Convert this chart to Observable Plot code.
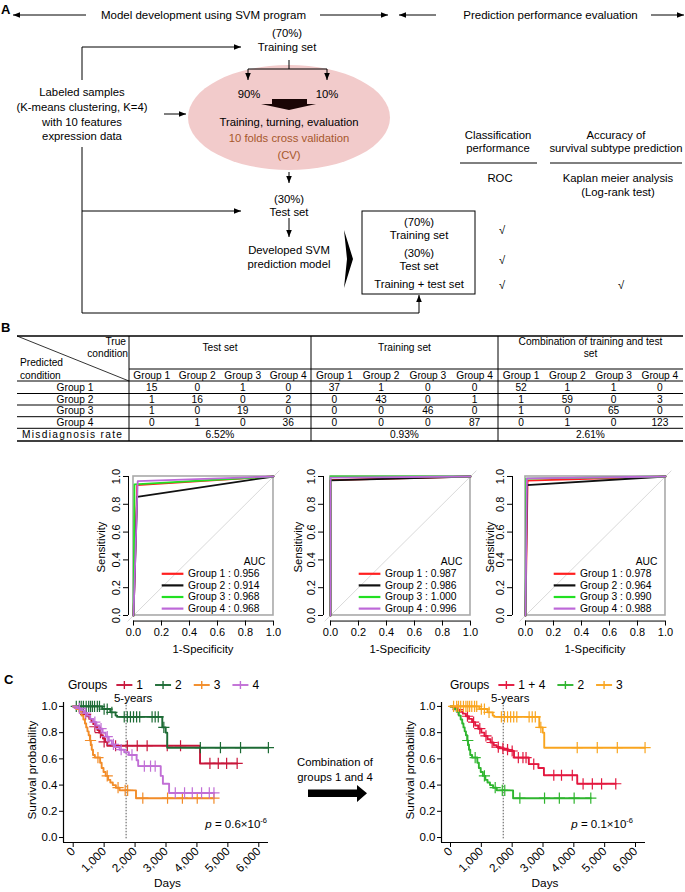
<!DOCTYPE html>
<html>
<head>
<meta charset="utf-8">
<script src="https://cdn.jsdelivr.net/npm/d3@7"></script>
<script src="https://cdn.jsdelivr.net/npm/@observablehq/plot@0.6"></script>
<style>
html,body{margin:0;padding:0;background:#fff;}
#fig{position:relative;width:685px;height:892px;overflow:hidden;font-family:"Liberation Sans",Arial,Helvetica,sans-serif;background:#fff;}
.panel{position:absolute;}
.panel svg{display:block;overflow:visible;max-width:none;}
#overlay{position:absolute;left:0;top:0;pointer-events:none;overflow:visible;}
#overlay text{font-family:"Liberation Sans",Arial,Helvetica,sans-serif;}
.pval{position:absolute;font-size:11.5px;white-space:nowrap;line-height:14px;}
.pval sup{font-size:7.5px;vertical-align:5px;line-height:0;}
</style>
</head>
<body>
<div id="fig">
  <div class="panel" id="roc1"></div>
  <div class="panel" id="roc2"></div>
  <div class="panel" id="roc3"></div>
  <div class="panel" id="kmL"></div>
  <div class="panel" id="kmR"></div>
  <div class="pval" style="right:418px;top:817px"><i>p</i> = 0.6×10<sup>-6</sup></div>
  <div class="pval" style="right:52px;top:817px"><i>p</i> = 0.1×10<sup>-6</sup></div>
  <svg id="overlay" width="685" height="892">
    <defs>
      <marker id="ah" viewBox="0 0 10 10" refX="10" refY="5" markerWidth="7" markerHeight="7" markerUnits="userSpaceOnUse" orient="auto">
        <path d="M0,1L10,5L0,9Z" fill="#000"/>
      </marker>
    </defs>
    <g id="panelA" font-size="11.3" text-anchor="middle" dominant-baseline="central" fill="#000">
      <text x="1" y="9" text-anchor="start" font-weight="bold" font-size="13">A</text>
      <g stroke="#000" stroke-width="1" fill="none">
        <path d="M86,15H13" marker-end="url(#ah)"/>
        <path d="M320,15H388" marker-end="url(#ah)"/>
        <path d="M436,15H399" marker-end="url(#ah)"/>
        <path d="M651,15H684" marker-end="url(#ah)"/>
      </g>
      <text x="203.5" y="15" font-size="11.5">Model development using SVM program</text>
      <text x="550.5" y="15" font-size="11.5">Prediction performance evaluation</text>

      <ellipse cx="289" cy="117.5" rx="101" ry="52.5" fill="#f2cbcb"/>
      <text x="287" y="33">(70%)</text>
      <text x="287" y="47">Training set</text>
      <g stroke="#000" stroke-width="1" fill="none">
        <path d="M82,80V47H241" marker-end="url(#ah)"/>
        <path d="M289,60V69M248,69H327"/>
        <path d="M248,69V80" marker-end="url(#ah)"/>
        <path d="M327,69V80" marker-end="url(#ah)"/>
        <path d="M164,114H186" marker-end="url(#ah)"/>
        <path d="M82,147V313H419V295" marker-end="url(#ah)"/>
        <path d="M82,211H241" marker-end="url(#ah)"/>
        <path d="M289,172V183" marker-end="url(#ah)"/>
        <path d="M289,218V237" marker-end="url(#ah)"/>
      </g>
      <text x="249" y="94">90%</text>
      <text x="327" y="94">10%</text>
      <path d="M272,99H307V104H316L289,110L261,104H272Z" fill="#1a0505"/>
      <text x="289" y="122">Training, turning, evaluation</text>
      <text x="289" y="138" fill="#a6582b">10 folds cross validation</text>
      <text x="289" y="155" fill="#a6582b">(CV)</text>

      <text x="82" y="92">Labeled samples</text>
      <text x="82" y="107">(K-means clustering, K=4)</text>
      <text x="82" y="121.5">with 10 features</text>
      <text x="82" y="136">expression data</text>

      <text x="289" y="198.5">(30%)</text>
      <text x="289" y="211.5">Test set</text>
      <text x="289" y="250">Developed SVM</text>
      <text x="289" y="264">prediction model</text>
      <path d="M344,230L353,259L344,288L347,259Z" fill="#000"/>
      <rect x="362" y="211" width="113" height="83" fill="none" stroke="#000" stroke-width="1"/>
      <text x="419" y="222">(70%)</text>
      <text x="419" y="235">Training set</text>
      <text x="419" y="253">(30%)</text>
      <text x="419" y="266">Test set</text>
      <text x="419" y="284">Training + test set</text>

      <text x="498" y="134.5">Classification</text>
      <text x="498" y="148">performance</text>
      <text x="616" y="134.5">Accuracy of</text>
      <text x="616" y="148">survival subtype prediction</text>
      <path d="M460,163H537M550,163H682" stroke="#000" stroke-width="1"/>
      <text x="500" y="178">ROC</text>
      <text x="618" y="178">Kaplan meier analysis</text>
      <text x="618" y="192">(Log-rank test)</text>
      <text x="502" y="230">√</text>
      <text x="502" y="260">√</text>
      <text x="502" y="285">√</text>
      <text x="621" y="285">√</text>

      <text x="1" y="327" text-anchor="start" font-weight="bold" font-size="13">B</text>
      <text x="4" y="679" text-anchor="start" font-weight="bold" font-size="13">C</text>

      <text x="335" y="762">Combination of</text>
      <text x="335" y="777">groups 1 and 4</text>
      <path d="M308,789.5H357V785L367,793.3L357,802V797H308Z" fill="#000"/>
    </g>
  </svg>
</div>
<script>
// ================= DATA =================
// Panel B – confusion tables (rows: predicted, columns: true condition)
const setTitles = ["Test set", "Training set", "Combination of training and test set"];
const groupLabels = ["Group 1", "Group 2", "Group 3", "Group 4"];
const testSetMatrix = [[15, 0, 1, 0], [1, 16, 0, 2], [1, 0, 19, 0], [0, 1, 0, 36]];
const trainingSetMatrix = [[37, 1, 0, 0], [0, 43, 0, 1], [0, 0, 46, 0], [0, 0, 0, 87]];
const combinedSetMatrix = [[52, 1, 1, 0], [1, 59, 0, 3], [1, 0, 65, 0], [0, 1, 0, 123]];
const misdiagnosisRates = ["6.52%", "0.93%", "2.61%"];

// ROC curves: elbow point (1-specificity, sensitivity) per group, and AUC
const rocColors = ["#ff1f1f", "#111111", "#22e022", "#bd68d8"];
const rocTicks = [0, 0.2, 0.4, 0.6, 0.8, 1.0];
const aucTest = [0.956, 0.914, 0.968, 0.968];
const aucTraining = [0.987, 0.986, 1.000, 0.996];
const aucCombined = [0.978, 0.964, 0.990, 0.988];
const rocTestFPR = [0.026, 0.026, 0.007, 0.030];
const rocTestTPR = [0.938, 0.854, 0.943, 0.966];
const rocTrainingFPR = [0, 0, 0, 0];
const rocTrainingTPR = [0.974, 0.972, 1.000, 0.992];
const rocCombinedFPR = [0.015, 0.010, 0.005, 0.010];
const rocCombinedTPR = [0.971, 0.938, 0.985, 0.986];

// Kaplan–Meier: step points [days, survival] and censor marks [days, survival]
const kmDayTicks = [0, 1000, 2000, 3000, 4000, 5000, 6000];
const kmProbTicks = [0, 0.2, 0.4, 0.6, 0.8, 1.0];
const kmFiveYearDays = 1710;

const kmG1Steps = [[0,1],[120,0.985],[220,0.97],[300,0.955],[380,0.94],[450,0.925],[520,0.905],[590,0.885],[650,0.865],[720,0.845],[780,0.82],[840,0.80],[900,0.78],[960,0.755],[1030,0.73],[1100,0.70],[4100,0.565],[5300,0.565]];
const kmG1Censor = [[400,0.94],[700,0.845],[880,0.80],[1000,0.73],[1370,0.70],[1750,0.70],[2070,0.70],[2390,0.70],[3040,0.70],[3470,0.70],[4420,0.565],[4690,0.565],[4960,0.565],[5300,0.565]];
const kmG2Steps = [[0,1],[940,0.98],[1200,0.955],[1370,0.93],[1420,0.92],[2880,0.84],[2990,0.80],[3040,0.685],[6310,0.685]];
const kmG2Censor = [[100,1],[200,1],[260,1],[330,1],[420,1],[500,1],[560,1],[620,1],[690,1],[780,1],[850,1],[1000,0.98],[1100,0.98],[1250,0.955],[1650,0.92],[1750,0.92],[1850,0.92],[1950,0.92],[2050,0.92],[2150,0.92],[2550,0.92],[2650,0.92],[2750,0.92],[2930,0.84],[4110,0.685],[4760,0.685],[5410,0.685],[6310,0.685]];
const kmG3Steps = [[0,1],[100,0.98],[200,0.96],[270,0.93],[330,0.90],[380,0.87],[420,0.84],[460,0.81],[500,0.78],[540,0.74],[570,0.71],[600,0.67],[640,0.63],[700,0.61],[870,0.57],[920,0.53],[980,0.50],[1050,0.47],[1130,0.44],[1200,0.42],[1280,0.40],[1380,0.38],[1500,0.36],[2030,0.30],[4550,0.30]];
const kmG3Censor = [[560,0.74],[800,0.61],[1100,0.47],[1450,0.38],[1680,0.36],[1760,0.36],[2250,0.30],[3050,0.30],[3530,0.30],[4010,0.30],[4550,0.30]];
const kmG4Steps = [[0,1],[150,0.985],[250,0.97],[350,0.95],[450,0.93],[550,0.905],[650,0.88],[750,0.855],[850,0.83],[950,0.80],[1050,0.77],[1150,0.74],[1250,0.71],[1350,0.69],[1500,0.67],[1650,0.65],[1800,0.63],[2050,0.59],[2100,0.545],[2830,0.47],[2900,0.41],[3100,0.34],[4550,0.34]];
const kmG4Censor = [[200,0.985],[400,0.95],[700,0.88],[900,0.83],[1100,0.77],[1300,0.71],[1550,0.67],[1900,0.63],[2300,0.545],[2500,0.545],[2650,0.545],[3300,0.34],[3600,0.34],[3850,0.34],[4150,0.34],[4400,0.34],[4550,0.34]];
const kmG14Steps = [[0,1],[100,0.99],[200,0.975],[300,0.96],[400,0.945],[500,0.925],[600,0.905],[700,0.88],[800,0.855],[900,0.83],[1000,0.80],[1100,0.775],[1200,0.75],[1300,0.725],[1400,0.705],[1500,0.69],[1600,0.68],[1750,0.67],[1900,0.66],[2060,0.61],[2540,0.56],[2850,0.53],[3030,0.475],[4110,0.41],[5360,0.41]];
const kmG14Censor = [[250,0.975],[550,0.925],[750,0.88],[950,0.83],[1150,0.775],[1350,0.725],[1550,0.69],[1700,0.68],[1850,0.67],[2000,0.66],[2200,0.61],[2350,0.61],[2450,0.61],[2700,0.56],[3350,0.475],[3600,0.475],[3950,0.475],[4300,0.41],[4600,0.41],[4900,0.41],[5360,0.41]];

const kmLeftLabels = ["1", "2", "3", "4"];
const kmLeftColors = ["#c8163b", "#1d6b35", "#f28c28", "#c16fd6"];
const kmRightLabels = ["1 + 4", "2", "3"];
const kmRightColors = ["#e3183f", "#2fb52f", "#f9a51f"];

// ================= DRAWING =================
const FONT = '"Liberation Sans",Arial,Helvetica,sans-serif';
const ov = d3.select("#overlay");

// ---- Panel B table ----
(function drawTable() {
  const g = ov.append("g").attr("font-size", 10.2).attr("text-anchor", "middle").attr("dominant-baseline", "central");
  const tLeft = 17, tRight = 683, firstRight = 129;
  const setEdges = [129, 311, 498, 683];
  const yTop = 336, yMid = 369;
  const rowLines = [381, 393.5, 405, 416.7, 428.3, 441];
  const matrices = [testSetMatrix, trainingSetMatrix, combinedSetMatrix];
  const line = (x1, y1, x2, y2, w) => g.append("line").attr("x1", x1).attr("y1", y1).attr("x2", x2).attr("y2", y2).attr("stroke", "#000").attr("stroke-width", w || 1);
  line(tLeft, yTop, tRight, yTop, 1.6);
  line(firstRight, yMid, tRight, yMid, 1);
  rowLines.forEach((y, i) => line(tLeft, y, tRight, y, i === rowLines.length - 1 ? 1.6 : 1));
  setEdges.slice(0, 3).forEach(x => line(x, yTop, x, rowLines[rowLines.length - 1], 1));
  line(tLeft, yTop, firstRight, rowLines[0], 0.8);
  const txt = (x, y, s, anchor) => g.append("text").attr("x", x).attr("y", y).attr("text-anchor", anchor || "middle").text(s);
  txt(126, 341.3, "True", "end");
  txt(128, 353, "condition", "end");
  txt(20, 362, "Predicted", "start");
  txt(20, 375, "condition", "start");
  setTitles.forEach((title, s) => {
    const x0 = setEdges[s], x1 = setEdges[s + 1], cx = (x0 + x1) / 2;
    const words = title.split(" ");
    const lines = [];
    let cur = "";
    const probe = g.append("text").attr("visibility", "hidden");
    words.forEach(w => {
      const t = cur ? cur + " " + w : w;
      probe.text(t);
      if (probe.node().getComputedTextLength() > 158 && cur) { lines.push(cur); cur = w; } else cur = t;
    });
    lines.push(cur);
    probe.remove();
    const lh = 12;
    const yc = (yTop + yMid) / 2 - 5;
    lines.forEach((l, i) => txt(cx, yc + (i - (lines.length - 1) / 2) * lh, l));
    const cw = (x1 - x0) / 4;
    groupLabels.forEach((gl, k) => txt(x0 + cw * (k + 0.5), (yMid + rowLines[0]) / 2, gl));
    matrices[s].forEach((row, r) => {
      const yc2 = (rowLines[r] + rowLines[r + 1]) / 2;
      row.forEach((v, k) => txt(x0 + cw * (k + 0.5), yc2, v));
    });
    txt(cx, (rowLines[4] + rowLines[5]) / 2, misdiagnosisRates[s]);
  });
  groupLabels.forEach((gl, r) => txt(75, (rowLines[r] + rowLines[r + 1]) / 2, gl));
  txt(72, (rowLines[4] + rowLines[5]) / 2, "Misdiagnosis rate").attr("textLength", 100);
})();

// ---- ROC plots ----
function drawRoc(id, boxLeft, axisPx, fpr, tpr, auc, sensX) {
  const ppu = 140, boxTop = 476;
  const L = boxLeft - 62, T = 446, bottom = 660;
  const xmin = (axisPx - boxLeft) / ppu;
  const marginLeft = axisPx - L, marginRight = 6;
  const width = boxLeft + 1.04 * ppu - L + marginRight;
  const yTopPx = boxTop - 0.04 * 139, yBotPx = boxTop + 1.04 * 139;
  const marginTop = yTopPx - T, height = bottom - T, marginBottom = bottom - yBotPx;
  const legendY = [0.300, 0.2165, 0.133, 0.0495];
  const legendRows = groupLabels.map((gl, i) => ({y: legendY[i], color: rocColors[i], label: `${gl} : ${auc[i].toFixed(3)}`}));
  const marks = [
    Plot.line([[-0.04, -0.04], [1.04, 1.04]], {x: d => d[0], y: d => d[1], stroke: "#cfcfcf", strokeWidth: 0.8}),
    Plot.rect([[0, 0, 1, 1]], {x1: d => d[0], y1: d => d[1], x2: d => d[2], y2: d => d[3], fill: "none", stroke: "#a9a9a9", strokeWidth: 1.6}),
    ...groupLabels.map((gl, i) => Plot.line([[0, 0], [fpr[i], tpr[i]], [1, 1]], {x: d => d[0], y: d => d[1], stroke: rocColors[i], strokeWidth: 1.8})),
    Plot.ruleX([xmin], {y1: 0, y2: 1, stroke: "#000", strokeWidth: 1}),
    Plot.ruleY([-0.04], {x1: 0, x2: 1, stroke: "#000", strokeWidth: 1}),
    Plot.axisX(rocTicks, {tickSize: 5, tickPadding: 2, tickFormat: d => d.toFixed(1), fontSize: 11, label: null}),
    Plot.axisY(rocTicks, {tickSize: 5, tickFormat: () => "", label: null}),
    Plot.text(rocTicks, {x: xmin, y: d => d, text: d => d.toFixed(1), rotate: -90, dx: -12, textAnchor: "middle", lineAnchor: "middle", fontSize: 11}),
    Plot.ruleY(legendRows, {x1: 0.205, x2: 0.36, y: "y", stroke: "color", strokeWidth: 2.2}),
    Plot.text(legendRows, {x: 0.39, y: "y", text: "label", textAnchor: "start", fontSize: 10.3}),
    Plot.text(["AUC"], {x: 0.865, y: 0.384, text: d => d, fontSize: 10.3})
  ];
  const p = Plot.plot({
    width, height, marginLeft, marginRight, marginTop, marginBottom,
    x: {domain: [xmin, 1.04], axis: null},
    y: {domain: [-0.04, 1.04], axis: null},
    color: {type: "identity"},
    style: {fontFamily: FONT, fontSize: "11px", background: "transparent", overflow: "visible"},
    marks
  });
  const el = document.getElementById(id);
  el.style.left = L + "px"; el.style.top = T + "px"; el.style.width = width + "px"; el.style.height = height + "px";
  el.appendChild(p);
  ov.append("text").attr("transform", `translate(${sensX},547) rotate(-90)`).attr("text-anchor", "middle").attr("dominant-baseline", "central").attr("font-size", 11.3).text("Sensitivity");
  ov.append("text").attr("x", boxLeft + 70).attr("y", 649).attr("text-anchor", "middle").attr("dominant-baseline", "central").attr("font-size", 11.3).text("1-Specificity");
}
drawRoc("roc1", 133, 128, rocTestFPR, rocTestTPR, aucTest, 101);
drawRoc("roc2", 330, 323, rocTrainingFPR, rocTrainingTPR, aucTraining, 298);
drawRoc("roc3", 525, 512, rocCombinedFPR, rocCombinedTPR, aucCombined, 490);

// ---- KM plots ----
function drawKm(id, left, svgWidth, axisPx, x0px, x6000px, endPx, series, labelX) {
  const ppd = (x6000px - x0px) / 6000;
  const xdom = [(axisPx - x0px) / ppd, (endPx - x0px) / ppd];
  const T = 672, H = 220;
  const ydom = [-0.038, 1.03];
  const marks = [
    Plot.ruleX([kmFiveYearDays], {y1: -0.01, y2: 1.03, stroke: "#555", strokeWidth: 1, strokeDasharray: "1.5,1.5"}),
    Plot.text([kmFiveYearDays], {x: d => d, y: 1.03, dy: -4, dx: 7, text: () => "5-years", lineAnchor: "middle", fontSize: 11.5}),
    ...series.flatMap(s => [
      Plot.line(s.steps, {x: d => d[0], y: d => d[1], curve: "step-after", stroke: s.color, strokeWidth: 1.9}),
      Plot.dot(s.censor, {x: d => d[0], y: d => d[1], symbol: "plus", r: 3.7, stroke: s.color, strokeWidth: 1.2})
    ]),
    Plot.ruleX([xdom[0]], {stroke: "#000", strokeWidth: 1.2}),
    Plot.ruleY([ydom[0]], {stroke: "#000", strokeWidth: 1.2}),
    Plot.axisY(kmProbTicks, {tickSize: 4, tickPadding: 2, tickFormat: d => d.toFixed(1), fontSize: 11.5, label: null}),
    Plot.axisX(kmDayTicks, {tickSize: 5, tickPadding: 2, tickRotate: -45, tickFormat: d3.format(","), fontSize: 11.8, label: null})
  ];
  const p = Plot.plot({
    width: svgWidth, height: H,
    marginLeft: axisPx - left, marginRight: left + svgWidth - endPx,
    marginTop: 702 - T, marginBottom: T + H - 842,
    x: {domain: xdom, axis: null},
    y: {domain: ydom, axis: null},
    style: {fontFamily: FONT, fontSize: "11.5px", background: "transparent", overflow: "visible"},
    marks
  });
  const el = document.getElementById(id);
  el.style.left = left + "px"; el.style.top = T + "px"; el.style.width = svgWidth + "px"; el.style.height = H + "px";
  el.appendChild(p);
  ov.append("text").attr("transform", `translate(${labelX},770) rotate(-90)`).attr("text-anchor", "middle").attr("dominant-baseline", "central").attr("font-size", 11.8).text("Survival probability");
  ov.append("text").attr("x", (axisPx + endPx) / 2 + 2).attr("y", 883).attr("text-anchor", "middle").attr("dominant-baseline", "central").attr("font-size", 11.8).text("Days");
}
const kmLeftSeries = [
  {steps: kmG1Steps, censor: kmG1Censor},
  {steps: kmG2Steps, censor: kmG2Censor},
  {steps: kmG3Steps, censor: kmG3Censor},
  {steps: kmG4Steps, censor: kmG4Censor}
].map((s, i) => ({...s, color: kmLeftColors[i], label: kmLeftLabels[i]}));
const kmRightSeries = [
  {steps: kmG14Steps, censor: kmG14Censor},
  {steps: kmG3Steps, censor: kmG3Censor},
  {steps: kmG2Steps, censor: kmG2Censor}
].map((s, i) => ({...s, color: kmRightColors[i], label: kmRightLabels[i]}));

drawKm("kmL", 0, 340, 63, 72.7, 258.3, 268, kmLeftSeries, 32);
drawKm("kmR", 345, 340, 441, 450, 635, 645, kmRightSeries, 410);

// KM legends
function kmLegend(x0, series) {
  const g = ov.append("g").attr("font-size", 12).attr("dominant-baseline", "central");
  const y = 685;
  const t = g.append("text").attr("x", x0).attr("y", y).text("Groups");
  let x = x0 + t.node().getComputedTextLength() + 9;
  series.forEach(s => {
    g.append("line").attr("x1", x).attr("x2", x + 16).attr("y1", y).attr("y2", y).attr("stroke", s.color).attr("stroke-width", 1.9);
    g.append("line").attr("x1", x + 8).attr("x2", x + 8).attr("y1", y - 4).attr("y2", y + 4).attr("stroke", s.color).attr("stroke-width", 1.4);
    x += 20;
    const lt = g.append("text").attr("x", x).attr("y", y).text(s.label);
    x += lt.node().getComputedTextLength() + 12;
  });
}
kmLegend(68, kmLeftSeries);
kmLegend(450, kmRightSeries);
</script>
</body>
</html>
